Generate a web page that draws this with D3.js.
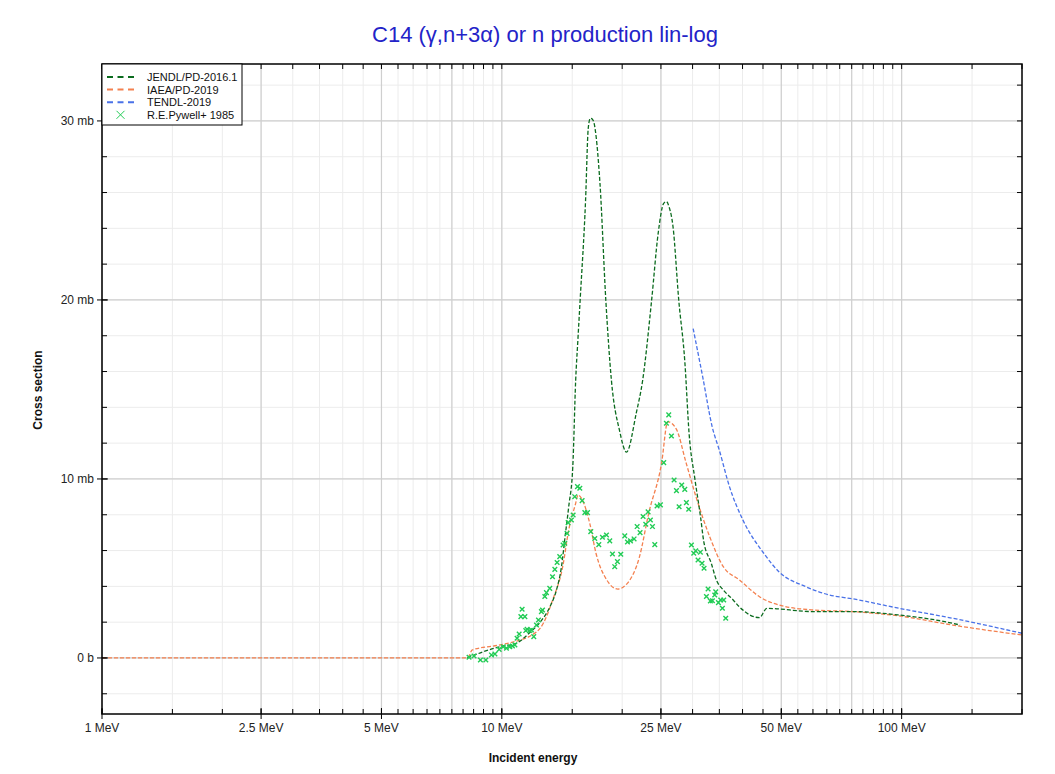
<!DOCTYPE html>
<html>
<head>
<meta charset="utf-8">
<script src="https://cdn.jsdelivr.net/npm/d3@7"></script>
<style>
  body { margin: 0; background: #fff; }
  svg { font-family: Arial, "Liberation Sans", sans-serif; }
  .tick-label { font-size: 12px; fill: #222; }
  .axis-title { font-size: 12px; font-weight: bold; fill: #111; }
</style>
</head>
<body>
<div id="chart"></div>
<script>
// C14 (g,n+3a) cross section
// energies in MeV, cross sections in mb

const jendlE =   [8.2, 9.0, 9.9, 10.87, 11.7, 12.4, 13.2, 13.7, 14.1, 14.4, 14.7, 15.05, 15.3, 15.5, 15.7, 16.2, 16.45, 16.65, 16.85, 17.0, 17.6, 18.2, 18.8, 19.7, 20.5, 21.7, 22.5, 23.7, 24.6, 25.4, 25.8, 26.2, 26.8, 27.7, 28.7, 29.4, 30.4, 31.4, 32.0, 33.4, 34.4, 35.8, 37.9, 39.3, 44.1, 46.0, 60.1, 75.6, 98.3, 134, 140];
const jendlXS =  [0, 0.35, 0.63, 0.82, 1.38, 1.94, 2.87, 3.8, 5.1, 6.8, 8.45, 10.7, 15.5, 17.8, 20, 25.6, 29.6, 30.15, 30.1, 29.9, 26.5, 20, 15.5, 12.7, 11.5, 13.7, 15.5, 20, 23.7, 25.4, 25.5, 25.2, 24.1, 20, 16.5, 12.55, 10.0, 7.9, 6.5, 5.3, 4.36, 3.8, 3.24, 2.85, 2.25, 2.77, 2.59, 2.59, 2.40, 1.94, 1.84];

const iaeaE =  [1, 8.2, 8.44, 9.9, 11.1, 11.7, 12.7, 13.4, 14.2, 14.7, 15.3, 15.5, 15.9, 16.6, 17.2, 18.3, 19.5, 20.6, 22.1, 23.3, 25.1, 26.0, 27.3, 28.9, 30.6, 33.1, 35.8, 39.3, 44.1, 49.3, 60.1, 75.6, 98.3, 134, 200];
const iaeaXS = [0, 0, 0.45, 0.73, 1.0, 1.19, 1.94, 3.24, 5.1, 7.15, 8.64, 9.1, 8.83, 7.5, 5.85, 4.36, 3.85, 4.17, 5.66, 8.08, 10.9, 13.2, 12.8, 10.9, 9.0, 6.78, 5.1, 4.36, 3.42, 2.96, 2.68, 2.59, 2.35, 1.84, 1.28];

const tendlE =  [30.1, 31.8, 33.6, 35.0, 37.1, 40.1, 45.2, 49.3, 57.6, 65.9, 75.6, 98.3, 134, 200];
const tendlXS = [18.4, 15.7, 12.9, 11.6, 9.57, 7.7, 5.85, 4.82, 3.98, 3.52, 3.30, 2.78, 2.22, 1.38];

// R.E.Pywell+ 1985 measured points
const pywellE = [8.28, 8.52, 8.84, 9.12, 9.42, 9.61, 9.85, 10.08, 10.27, 10.47, 10.63, 10.78, 10.92, 11.05, 11.48, 11.57, 11.75, 11.86, 12.02, 12.21,
  12.35, 12.56, 12.64, 11.16, 11.42, 11.24, 12.81, 12.93, 13.18, 13.39, 13.57, 13.75, 13.96, 14.23, 14.37, 14.56, 14.65, 14.93, 15.08, 15.22,
  15.46, 15.67, 15.88, 16.13, 16.38, 16.69, 17.08, 17.48, 17.85, 18.27, 18.62, 18.91, 19.16, 19.46, 19.84, 20.30, 20.62, 20.98, 21.42, 21.80,
  22.17, 22.56, 22.91, 23.22, 23.53, 23.81, 24.13, 24.45, 24.93, 25.41, 25.80, 26.15, 26.56, 26.97, 27.34, 27.76, 28.18, 28.68, 28.95, 29.34,
  29.80, 30.20, 30.55, 31.38, 30.96, 31.68, 32.05, 32.80, 32.49, 33.24, 33.63, 34.28, 34.08, 34.81, 35.28, 35.89, 35.62, 36.31];
const pywellXS = [0.04, 0.11, -0.11, -0.11, 0.17, 0.22, 0.48, 0.63, 0.54, 0.63, 0.67, 0.73, 1.10, 1.34, 1.53, 1.60, 1.53, 1.56, 1.19, 1.84,
  2.12, 2.59, 2.68, 2.31, 2.31, 2.72, 3.43, 3.65, 3.89, 4.54, 4.95, 5.33, 5.66, 6.31, 6.41, 6.96, 7.56, 7.71, 7.99, 9.01,
  9.57, 9.48, 8.79, 8.12, 8.12, 7.06, 6.67, 6.33, 6.74, 6.87, 6.54, 5.81, 5.10, 5.38, 5.79, 6.82, 6.48, 6.54, 6.65, 7.34,
  7.00, 7.90, 7.47, 8.16, 7.71, 7.34, 6.33, 8.49, 8.55, 10.91, 13.11, 13.58, 12.40, 9.94, 9.35, 8.45, 9.66, 9.42, 8.68, 8.31,
  6.31, 5.85, 5.98, 5.91, 5.47, 5.29, 5.01, 3.85, 3.43, 3.18, 3.20, 3.69, 3.52, 3.09, 3.24, 3.24, 2.78, 2.22];

const seriesNames = ['JENDL/PD-2016.1', 'IAEA/PD-2019', 'TENDL-2019', 'R.E.Pywell+ 1985'];
const seriesColors = ['#0b6b1e', '#f4804f', '#4a72e8', '#22cc55'];

const xLabelTicks = [1, 2.5, 5, 10, 25, 50, 100];
const xMajorGrid = [1, 2.5, 5, 7.5, 10, 25, 50, 75, 100];
const yMajorTicks = [0, 10, 20, 30];

const W = 1055, H = 774;
const plot = {left: 102, right: 1022, top: 64, bottom: 714};

const svg = d3.select('#chart').append('svg')
  .attr('width', W).attr('height', H);

const x = d3.scaleLog().domain([1, 200]).range([plot.left, plot.right]);
const y = d3.scaleLinear().domain([-3.13, 33.18]).range([plot.bottom, plot.top]);

// minor ticks: 0.5 steps below 10, 5 steps to 100, 50 above
const xMinor = d3.range(1, 10, 0.5).concat(d3.range(10, 100, 5), d3.range(100, 201, 50));
const yMinor = d3.range(-2, 33, 2);

svg.append('defs').append('clipPath').attr('id', 'clip')
  .append('rect')
  .attr('x', plot.left).attr('y', plot.top)
  .attr('width', plot.right - plot.left).attr('height', plot.bottom - plot.top);

// grid
const grid = svg.append('g');
grid.selectAll('.vminor').data(xMinor).enter().append('line')
  .attr('x1', d => x(d)).attr('x2', d => x(d))
  .attr('y1', plot.top).attr('y2', plot.bottom)
  .attr('stroke', '#ececec').attr('stroke-width', 1);
grid.selectAll('.hminor').data(yMinor).enter().append('line')
  .attr('x1', plot.left).attr('x2', plot.right)
  .attr('y1', d => y(d)).attr('y2', d => y(d))
  .attr('stroke', '#ececec').attr('stroke-width', 1);
grid.selectAll('.vmajor').data(xMajorGrid).enter().append('line')
  .attr('x1', d => x(d)).attr('x2', d => x(d))
  .attr('y1', plot.top).attr('y2', plot.bottom)
  .attr('stroke', '#cfcfcf').attr('stroke-width', 1.2);
grid.selectAll('.hmajor').data(yMajorTicks).enter().append('line')
  .attr('x1', plot.left).attr('x2', plot.right)
  .attr('y1', d => y(d)).attr('y2', d => y(d))
  .attr('stroke', '#cfcfcf').attr('stroke-width', 1.2);

// curves
const line = d3.line()
  .x(d => x(d[0])).y(d => y(d[1]))
  .curve(d3.curveMonotoneX);

const curves = svg.append('g').attr('clip-path', 'url(#clip)');
const curveData = [
  {e: iaeaE, s: iaeaXS, c: seriesColors[1]},
  {e: tendlE, s: tendlXS, c: seriesColors[2]},
  {e: jendlE, s: jendlXS, c: seriesColors[0]},
];
curveData.forEach(cd => {
  curves.append('path')
    .datum(d3.zip(cd.e, cd.s))
    .attr('d', line)
    .attr('fill', 'none')
    .attr('stroke', cd.c)
    .attr('stroke-width', 1.3)
    .attr('stroke-dasharray', '4,2');
});

// measured points as x markers
const cross = (s) => `M${-s},${-s}L${s},${s}M${-s},${s}L${s},${-s}`;
curves.selectAll('.pt').data(d3.zip(pywellE, pywellXS)).enter().append('path')
  .attr('transform', d => `translate(${x(d[0])},${y(d[1])})`)
  .attr('d', cross(2.3))
  .attr('stroke', seriesColors[3])
  .attr('stroke-width', 1.4)
  .attr('fill', 'none');

// frame
svg.append('rect')
  .attr('x', plot.left).attr('y', plot.top)
  .attr('width', plot.right - plot.left).attr('height', plot.bottom - plot.top)
  .attr('fill', 'none').attr('stroke', '#000').attr('stroke-width', 1.5);

// ticks
const ticks = svg.append('g').attr('stroke', '#000').attr('stroke-width', 1);
ticks.selectAll('.xb').data(xMinor).enter().append('line')
  .attr('x1', d => x(d)).attr('x2', d => x(d))
  .attr('y1', plot.bottom).attr('y2', plot.bottom - 5);
ticks.selectAll('.xt').data(xMinor).enter().append('line')
  .attr('x1', d => x(d)).attr('x2', d => x(d))
  .attr('y1', plot.top).attr('y2', plot.top + 5);
ticks.selectAll('.xbm').data(xLabelTicks).enter().append('line')
  .attr('x1', d => x(d)).attr('x2', d => x(d))
  .attr('y1', plot.bottom + 5).attr('y2', plot.bottom - 6);
ticks.selectAll('.yl').data(yMinor).enter().append('line')
  .attr('x1', plot.left).attr('x2', plot.left + 5)
  .attr('y1', d => y(d)).attr('y2', d => y(d));
ticks.selectAll('.yr').data(yMinor).enter().append('line')
  .attr('x1', plot.right).attr('x2', plot.right - 5)
  .attr('y1', d => y(d)).attr('y2', d => y(d));
ticks.selectAll('.ylm').data(yMajorTicks).enter().append('line')
  .attr('x1', plot.left - 5).attr('x2', plot.left + 6)
  .attr('y1', d => y(d)).attr('y2', d => y(d));

// tick labels
svg.selectAll('.xlab').data(xLabelTicks).enter().append('text')
  .attr('class', 'tick-label')
  .attr('x', d => x(d)).attr('y', plot.bottom + 18)
  .attr('text-anchor', 'middle')
  .text(d => `${d} MeV`);
svg.selectAll('.ylab').data(yMajorTicks).enter().append('text')
  .attr('class', 'tick-label')
  .attr('x', plot.left - 8).attr('y', d => y(d) + 4)
  .attr('text-anchor', 'end')
  .text(d => d === 0 ? '0 b' : `${d} mb`);

// axis titles
svg.append('text').attr('class', 'axis-title')
  .attr('x', 533).attr('y', 762)
  .attr('text-anchor', 'middle')
  .text('Incident energy');
svg.append('text').attr('class', 'axis-title')
  .attr('transform', 'translate(42,390) rotate(-90)')
  .attr('text-anchor', 'middle')
  .text('Cross section');

// title
svg.append('text')
  .attr('x', 545).attr('y', 42)
  .attr('text-anchor', 'middle')
  .attr('font-size', 22)
  .attr('fill', '#2323c8')
  .text('C14 (γ,n+3α) or n production lin-log');

// legend
const lg = svg.append('g');
lg.append('rect')
  .attr('x', plot.left).attr('y', plot.top)
  .attr('width', 140).attr('height', 61)
  .attr('fill', '#fff').attr('stroke', '#000').attr('stroke-width', 1);
seriesNames.forEach((name, i) => {
  const ly = 77 + i * 12.6;
  if (i < 3) {
    lg.append('line')
      .attr('x1', 107).attr('x2', 134).attr('y1', ly).attr('y2', ly)
      .attr('stroke', seriesColors[i]).attr('stroke-width', 2)
      .attr('stroke-dasharray', '6,4.5');
  } else {
    lg.append('path')
      .attr('transform', `translate(120.5,${ly})`)
      .attr('d', cross(4))
      .attr('stroke', seriesColors[i]).attr('stroke-width', 1)
      .attr('fill', 'none');
  }
  lg.append('text')
    .attr('x', 147).attr('y', ly + 4)
    .attr('font-size', 11).attr('fill', '#111')
    .text(name);
});
</script>
</body>
</html>
